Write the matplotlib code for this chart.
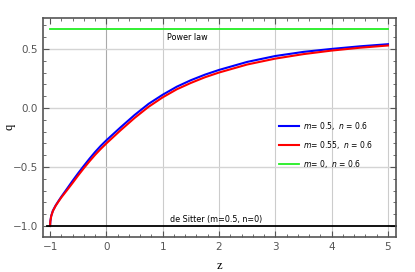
import matplotlib
matplotlib.use("Agg")
import matplotlib.pyplot as plt
from matplotlib.ticker import MultipleLocator, FuncFormatter

# values
z_curve = [-1.0, -0.995, -0.98, -0.95, -0.9, -0.85, -0.8, -0.7, -0.6, -0.5, -0.4, -0.3, -0.2,
           -0.1, 0.0, 0.25, 0.5, 0.75, 1.0, 1.25, 1.5, 1.75, 2.0, 2.5, 3.0, 3.5, 4.0, 4.5, 5.0]
q_blue = [-1.0, -0.96, -0.915, -0.87, -0.825, -0.788, -0.752, -0.685, -0.617, -0.552, -0.49,
          -0.43, -0.373, -0.321, -0.274, -0.165, -0.06, 0.035, 0.112, 0.18, 0.235, 0.282,
          0.322, 0.39, 0.44, 0.475, 0.50, 0.522, 0.54]
q_red = [-1.0, -0.96, -0.917, -0.873, -0.828, -0.792, -0.758, -0.697, -0.635, -0.571, -0.51,
         -0.452, -0.397, -0.347, -0.30, -0.19, -0.085, 0.01, 0.09, 0.158, 0.212, 0.26,
         0.30, 0.368, 0.418, 0.456, 0.486, 0.51, 0.529]

z_green = [-1.0, 5.0]
q_power = [0.667, 0.667]

z_black = [-1.06, 5.14]
q_desitter = [-1.0, -1.0]

labels = [r"$m$= 0.5,  $n$ = 0.6", r"$m$= 0.55,  $n$ = 0.6", r"$m$= 0,  $n$ = 0.6"]

plt.rcParams['mathtext.fontset'] = 'dejavusans'

fig = plt.figure(figsize=(4.15, 2.72), dpi=100)
ax = fig.add_axes([0.103, 0.130, 0.8505, 0.803])

for v in [0, 1, 2, 3, 4, 5]:
    ax.axvline(v, color='#cccccc' if v else '#aaaaaa', lw=0.8, zorder=0)
for v in [0.5, 0.0, -0.5]:
    ax.axhline(v, color='#d4d4d4', lw=1.0, zorder=0)

l1, = ax.plot(z_curve, q_blue, color='#0000ff', lw=1.5, solid_joinstyle='round')
l2, = ax.plot(z_curve, q_red, color='#ff0000', lw=1.5, solid_joinstyle='round')
l3, = ax.plot(z_green, q_power, color='#22ee22', lw=1.3)
ax.plot(z_black, q_desitter, color='black', lw=1.3, clip_on=False)

ax.text(1.43, 0.60, "Power law", fontsize=5.8, ha='center', va='center')
ax.text(1.95, -0.943, "de Sitter (m=0.5, n=0)", fontsize=5.8, ha='center', va='center')

ax.legend([l1, l2, l3], labels, loc='upper left', bbox_to_anchor=(0.65, 0.565),
          frameon=False, fontsize=5.5, handlelength=2.6, labelspacing=0.9,
          handletextpad=0.6)

ax.set_xlim(-1.13, 5.137)
ax.set_ylim(-1.09, 0.76)
ax.xaxis.set_major_locator(MultipleLocator(1))
ax.xaxis.set_minor_locator(MultipleLocator(0.2))
ax.yaxis.set_major_locator(MultipleLocator(0.5))
ax.yaxis.set_minor_locator(MultipleLocator(0.1))
ax.tick_params(which='both', direction='in', top=True, right=True, color='#555555',
               labelsize=7.5, labelcolor='#555555')
ax.tick_params(which='major', length=4, width=0.8)
ax.tick_params(which='minor', length=2, width=0.6)
ax.yaxis.set_major_formatter(FuncFormatter(
    lambda v, p: ("\u2212%.1f" % -v) if v < 0 else "%.1f" % v))
ax.xaxis.set_major_formatter(FuncFormatter(
    lambda v, p: ("\u2212%d" % -v) if v < 0 else "%d" % v))
for s in ax.spines.values():
    s.set_color('#555555')
    s.set_linewidth(1.2)

ax.set_xlabel("z", family='Liberation Serif', fontsize=9, labelpad=6)
fig.text(9 / 415, 1 - 127 / 272, "q", family='Liberation Serif', fontsize=9,
         rotation=90, ha='center', va='center')

fig.savefig("out.png", dpi=100)
